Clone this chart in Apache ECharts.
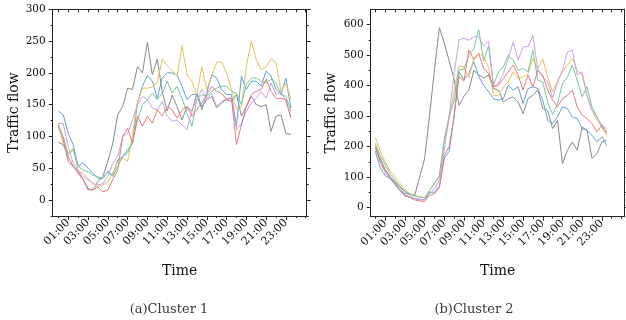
<!DOCTYPE html>
<html><head><meta charset="utf-8">
<script src="https://cdn.jsdelivr.net/npm/echarts@6/dist/echarts.min.js"></script>
<style>html,body{margin:0;padding:0;background:#fff}#c{width:626px;height:320px}</style>
</head><body><div id="c"></div>
<script>
// time of day in hours (every 30 min)
const times = [0,0.5,1,1.5,2,2.5,3,3.5,4,4.5,5,5.5,6,6.5,7,7.5,8,8.5,9,9.5,10,10.5,11,11.5,12,12.5,13,13.5,14,14.5,15,15.5,16,16.5,17,17.5,18,18.5,19,19.5,20,20.5,21,21.5,22,22.5,23,23.5];
const labelHours = [1,3,5,7,9,11,13,15,17,19,21,23];
const labelTexts = ['01:00','03:00','05:00','07:00','09:00','11:00','13:00','15:00','17:00','19:00','21:00','23:00'];
const minorHours = [0,2,4,6,8,10,12,14,16,18,20,22,24,25];
const allHours = [0,1,2,3,4,5,6,7,8,9,10,11,12,13,14,15,16,17,18,19,20,21,22,23,24,25];
const yTicksA = [0,50,100,150,200,250,300];
const yMinorA = [-25,25,75,125,175,225,275];
const yTicksB = [0,100,200,300,400,500,600];
const yMinorB = [50,150,250,350,450,550];

const seriesNames = ['gray','blue','yellow','green','purple','red'];
const colors = ['#8a8a8a','#62a0dc','#e4c25c','#76c993','#c6a2e4','#ea7a7a'];

// Cluster 1
const a_gray   = [91,87,68,53,45,32,18,16,29,37,61,89,134,147,176,174,210,200,248,197,222,170,140,165,147,126,147,139,168,147,158,163,145,153,158,155,166,132,147,163,150,147,150,108,132,134,105,103];
const a_blue   = [140,134,105,87,53,59,50,42,34,34,45,39,63,68,79,89,153,179,196,187,160,192,200,200,196,179,158,166,166,142,168,197,192,174,166,166,116,195,174,187,187,179,203,195,174,166,192,145];
const a_yellow = [121,89,74,82,47,42,34,26,21,24,29,42,61,66,61,103,155,176,176,178,185,222,212,203,195,243,197,187,166,209,174,195,217,217,200,174,142,147,210,250,221,205,210,222,216,171,184,158];
const a_green  = [118,100,71,79,53,47,45,39,37,34,45,37,53,68,74,92,126,150,158,168,158,168,187,168,179,160,137,116,158,166,163,171,176,179,179,171,168,150,182,192,192,187,184,190,184,166,163,140];
const a_purple = [121,120,84,58,47,37,32,26,24,26,37,58,68,100,105,126,150,163,158,145,142,155,132,124,126,118,111,142,158,174,160,168,147,155,160,160,111,121,139,153,160,171,160,184,166,171,155,132];
const a_red    = [116,95,60,53,42,32,16,16,21,13,16,32,47,100,113,89,132,116,132,121,142,132,147,142,129,142,147,132,142,153,166,179,171,168,158,160,87,118,147,166,171,174,190,171,160,160,158,129];

// Cluster 2
const b_gray   = [199,160,125,100,85,68,50,42,40,100,160,300,450,590,540,480,420,335,365,385,450,435,425,435,390,385,346,357,363,346,308,357,368,385,325,319,259,286,144,188,215,188,264,253,161,177,215,220];
const b_blue   = [185,130,105,95,75,55,38,35,30,25,27,50,50,70,160,185,300,445,420,440,478,430,400,380,357,352,357,401,385,396,341,390,396,390,352,286,275,297,330,325,297,292,259,253,237,215,232,204];
const b_yellow = [230,185,150,120,100,80,60,45,40,35,32,55,80,100,215,290,380,465,460,425,490,505,495,460,368,368,396,412,445,423,428,439,488,456,488,428,379,417,445,467,488,450,434,368,319,286,264,237];
const b_green  = [210,170,140,110,90,70,55,45,38,35,33,55,80,105,225,300,350,450,455,500,520,583,480,530,401,445,461,499,483,450,456,445,516,417,412,346,305,340,407,428,467,417,363,396,330,297,264,248];
const b_purple = [195,150,115,95,80,60,45,35,30,28,25,45,60,90,190,300,440,550,555,548,560,560,530,545,396,407,439,488,543,483,527,527,565,450,428,412,360,410,450,510,516,434,445,363,319,297,270,259];
const b_red    = [200,150,120,100,80,60,40,32,25,22,20,40,45,65,170,200,300,430,415,517,485,505,455,440,396,401,423,445,467,434,385,434,396,450,434,385,352,330,357,368,385,330,303,292,275,248,270,243];

const dataA = [a_gray,a_blue,a_yellow,a_green,a_purple,a_red];
const dataB = [b_gray,b_blue,b_yellow,b_green,b_purple,b_red];

const AX = '#222222', TX = '#111111', SERIF = 'DejaVu Serif';

function xAxes(g, min, max){
  const base = {gridIndex:g,type:'value',min:min,max:max,splitLine:{show:false}};
  return [
    Object.assign({}, base, {position:'bottom',
      axisLine:{show:true,onZero:false,lineStyle:{color:AX,width:1}},
      axisTick:{show:true,customValues:labelHours,length:4,lineStyle:{color:AX}},
      axisLabel:{show:true,customValues:labelHours,rotate:45,margin:5,
        formatter:function(v){return labelTexts[labelHours.indexOf(Math.round(v))]||'';},
        fontFamily:SERIF,fontSize:11,color:TX},
      name:'Time',nameLocation:'middle',nameGap:48,
      nameTextStyle:{fontFamily:SERIF,fontSize:14,color:TX}}),
    Object.assign({}, base, {position:'bottom',
      axisLine:{show:false,onZero:false},
      axisTick:{show:true,customValues:minorHours,length:2,lineStyle:{color:AX}},
      axisLabel:{show:false}}),
    Object.assign({}, base, {position:'top',
      axisLine:{show:true,onZero:false,lineStyle:{color:AX,width:1}},
      axisTick:{show:true,customValues:allHours,inside:true,length:3,lineStyle:{color:AX}},
      axisLabel:{show:false}})
  ];
}
function yAxes(g, min, max, majors, minors, gap){
  const base = {gridIndex:g,type:'value',min:min,max:max,splitLine:{show:false}};
  return [
    Object.assign({}, base, {position:'left',
      axisLine:{show:true,onZero:false,lineStyle:{color:AX,width:1}},
      axisTick:{show:true,customValues:majors,length:4,lineStyle:{color:AX}},
      axisLabel:{show:true,customValues:majors,margin:7,fontFamily:SERIF,fontSize:10.5,color:TX},
      name:'Traffic flow',nameLocation:'middle',nameGap:gap,
      nameTextStyle:{fontFamily:SERIF,fontSize:14,color:TX}}),
    Object.assign({}, base, {position:'left',
      axisLine:{show:false,onZero:false},
      axisTick:{show:true,customValues:minors,length:2,lineStyle:{color:AX}},
      axisLabel:{show:false}}),
    Object.assign({}, base, {position:'right',
      axisLine:{show:true,onZero:false,lineStyle:{color:AX,width:1}},
      axisTick:{show:true,customValues:majors,length:4,lineStyle:{color:AX}},
      axisLabel:{show:false}}),
    Object.assign({}, base, {position:'right',
      axisLine:{show:false,onZero:false},
      axisTick:{show:true,customValues:minors,length:2,lineStyle:{color:AX}},
      axisLabel:{show:false}})
  ];
}

const series = [];
function addSeries(data, xi, yi){
  data.forEach(function(vals, k){
    series.push({type:'line',name:seriesNames[k],xAxisIndex:xi,yAxisIndex:yi,
      data:times.map(function(t,i){return [t, vals[i]];}),
      symbol:'none',silent:true,animation:false,
      lineStyle:{color:colors[k],width:1},itemStyle:{color:colors[k]}});
  });
}
addSeries(dataA, 0, 0);
addSeries(dataB, 3, 4);

const chart = echarts.init(document.getElementById('c'), null, {renderer:'canvas'});
chart.setOption({
  animation:false,
  backgroundColor:'#ffffff',
  grid:[
    {left:52.7, top:9.3, width:254, height:206.7, containLabel:false},
    {left:370.7, top:9.3, width:253.8, height:207.4, containLabel:false}
  ],
  xAxis: xAxes(0, -0.57, 25.1).concat(xAxes(1, -0.47, 25.3)),
  yAxis: yAxes(0, -25, 300, yTicksA, yMinorA, 30).concat(yAxes(1, -30, 650, yTicksB, yMinorB, 32)),
  series: series,
  graphic:[
    {type:'text',x:169,y:310,style:{text:'(a)Cluster 1',font:'13px "DejaVu Serif"',fill:'#3a3a3a',textAlign:'center',textVerticalAlign:'middle'}},
    {type:'text',x:474,y:310,style:{text:'(b)Cluster 2',font:'13px "DejaVu Serif"',fill:'#3a3a3a',textAlign:'center',textVerticalAlign:'middle'}}
  ]
});
</script></body></html>
